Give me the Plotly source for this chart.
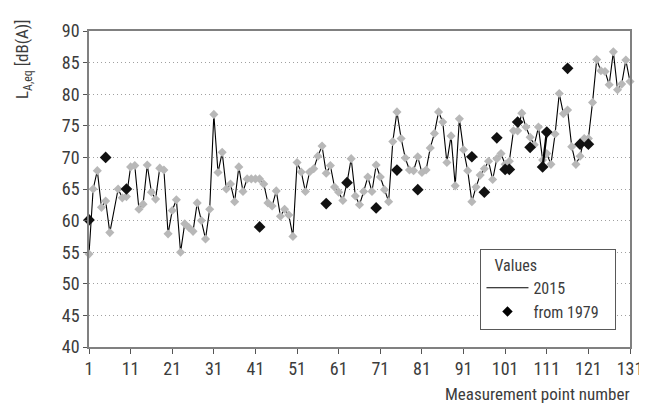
import plotly.graph_objects as go

point_number = list(range(1, 132))

laeq_2015 = [
    54.7, 65.0, 67.9, 62.1, 63.1, 58.1, None, 65.0, 63.6, 63.8,
    68.5, 68.7, 61.8, 62.6, 68.8, 64.5, 63.4, 68.3, 68.0, 57.9,
    61.6, 63.3, 55.0, 59.5, 58.9, 58.3, 62.8, 60.0, 57.1, 61.8,
    76.8, 67.6, 70.8, 65.0, 65.8, 63.0, 68.5, 64.6, 66.6, 66.6,
    66.6, 66.6, 65.8, 62.8, 62.3, 64.7, 60.7, 61.8, 60.9, 57.5,
    69.2, 67.7, 64.6, 67.7, 68.2, 70.2, 71.8, 67.5, 68.7, 65.3,
    64.5, 63.2, 66.0, 69.8, 63.9, 62.5, 64.6, 66.9, 64.6, 68.8,
    66.9, 64.9, 63.0, 72.5, 77.2, 73.0, 69.9, 68.0, 67.9, 70.1,
    67.6, 68.0, 71.5, 73.8, 77.2, 75.6, 69.2, 73.4, 65.5, 76.1,
    71.2, 67.9, 63.0, 65.3, 67.2, 68.2, 69.4, 66.5, 69.8, 70.6,
    68.9, 69.4, 74.2, 74.2, 77.0, 74.8, 73.2, 72.0, 74.8, 69.6,
    70.6, 68.9, 73.7, 80.1, 76.9, 77.5, 71.7, 68.9, 70.2, 73.0,
    73.0, 78.7, 85.5, 83.7, 83.6, 81.5, 86.7, 80.7, 81.6, 85.4,
    82.0,
]

from_1979_points = [1, 5, 10, 42, 58, 63, 70, 75, 80, 93, 96, 99, 101, 102, 104, 107, 110, 111, 116, 119, 121]
from_1979_values = [60.1, 70.0, 65.0, 59.0, 62.7, 66.0, 62.0, 68.0, 64.9, 70.1, 64.5, 73.1, 68.1, 68.1, 75.6, 71.6, 68.5, 74.0, 84.1, 72.1, 72.1]

x_ticks = list(range(1, 132, 10))
y_ticks = list(range(40, 91, 5))

# full category grid for the 1979 series (gaps where no measurement)
v1979 = {p: v for p, v in zip(from_1979_points, from_1979_values)}
y1979 = [v1979.get(p) for p in point_number]

FONT = "Liberation Sans Narrow, Arial Narrow, Roboto Condensed, Liberation Sans, sans-serif"
TXT = "#3c3c3c"

fig = go.Figure()
fig.add_trace(go.Scatter(
    x=point_number, y=laeq_2015, mode="lines+markers", connectgaps=True,
    line=dict(color="#000000", width=1.1),
    marker=dict(symbol="diamond", size=7, color="#b8b8b8"),
    showlegend=False, cliponaxis=False,
))
fig.add_trace(go.Scatter(
    x=point_number, y=y1979, mode="lines+markers", connectgaps=False,
    line=dict(color="#000000", width=2.2),
    marker=dict(symbol="diamond", size=9, color="#111111"),
    showlegend=False, cliponaxis=False,
))
fig.add_trace(go.Scatter(x=[None], y=[None], mode="lines", name="2015",
                         line=dict(color="#000000", width=1.1)))
fig.add_trace(go.Scatter(x=[None], y=[None], mode="markers", name="from 1979&nbsp;&nbsp;&nbsp;",
                         marker=dict(symbol="diamond", size=8, color="#000000")))

fig.update_layout(
    width=647, height=405,
    margin=dict(l=81, r=22, t=15, b=66),
    paper_bgcolor="white", plot_bgcolor="white",
    font=dict(family=FONT, size=18, color=TXT),
    legend=dict(
        title=dict(text="&nbsp;&nbsp;&nbsp;Values", font=dict(size=16, color=TXT)),
        x=0.975, xanchor="right", y=0.31, yanchor="top",
        bordercolor="#595959", borderwidth=1, bgcolor="white",
        font=dict(size=16, color=TXT), itemwidth=42, tracegroupgap=0,
    ),
)
fig.update_xaxes(
    range=[1, 131], tickvals=x_ticks, ticktext=[str(t) for t in x_ticks],
    showline=True, linecolor="#808080", linewidth=1.5, mirror=True,
    ticks="outside", ticklen=5, tickcolor="#555555",
    showgrid=False, zeroline=False,
)
fig.update_yaxes(
    range=[40, 90], tickvals=y_ticks,
    showline=True, linecolor="#808080", linewidth=1.5, mirror=True,
    ticks="outside", ticklen=4, tickcolor="#555555",
    showgrid=True, gridcolor="#a0a0a0", griddash="1px,3px", gridwidth=1,
    zeroline=False,
)
fig.add_annotation(
    text="L<sub>A,eq</sub> [dB(A)]", textangle=-90, showarrow=False,
    xref="paper", yref="paper", x=0, y=1.0, xanchor="center", yanchor="top",
    xshift=-66, yshift=14, font=dict(size=17, color=TXT),
)
fig.add_annotation(
    text="Measurement point number", showarrow=False,
    xref="paper", yref="paper", x=1.0, y=-0.15, xanchor="right", yanchor="middle",
    xshift=2, font=dict(size=17, color=TXT),
)

fig.write_html("out.html")
